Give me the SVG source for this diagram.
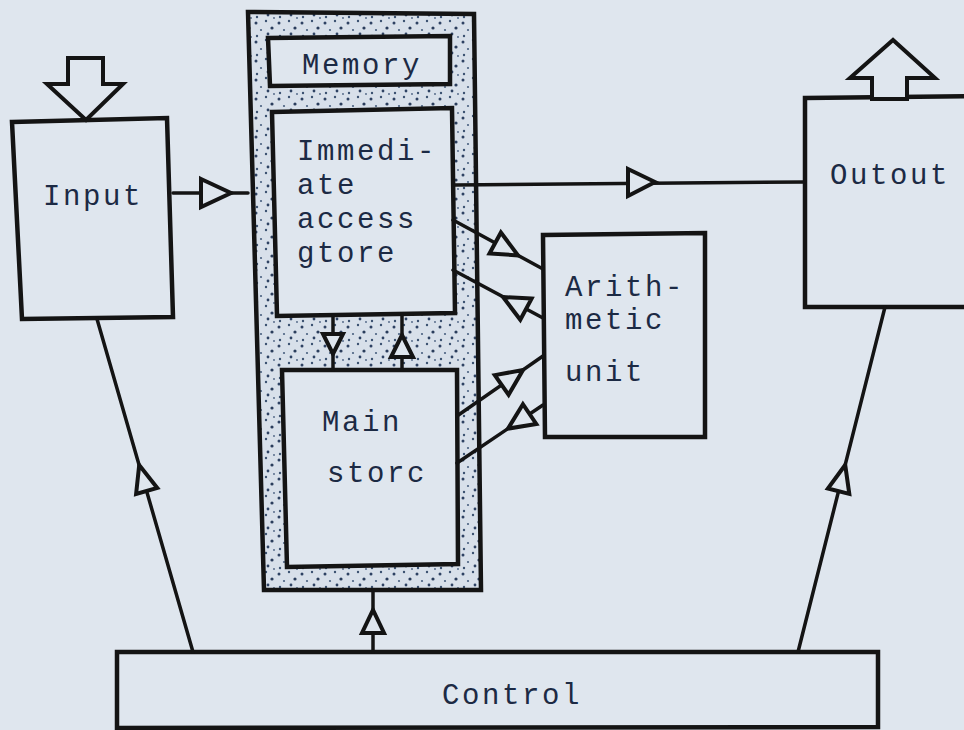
<svg xmlns="http://www.w3.org/2000/svg" width="964" height="730" viewBox="0 0 964 730">
  <defs>
    <!-- stippled fill for the memory casing -->
    <pattern id="stipple" width="23" height="19" patternUnits="userSpaceOnUse">
      <rect width="23" height="19" fill="#d8e0ea"/>
      <circle cx="3" cy="4" r="1.5" fill="#2e4263"/>
      <circle cx="13" cy="2" r="1.2" fill="#3a5070"/>
      <circle cx="19" cy="9" r="1.6" fill="#2a3d5c"/>
      <circle cx="8" cy="11" r="1.1" fill="#4a6080"/>
      <circle cx="15" cy="15" r="1.4" fill="#2e4263"/>
      <circle cx="4" cy="17" r="1.2" fill="#3a5070"/>
      <circle cx="21" cy="18" r="0.9" fill="#4a6080"/>
    </pattern>
    <style>
      .box { fill: #dfe6ee; stroke: #141414; stroke-width: 4.5; stroke-linejoin: miter; }
      .wire { fill: none; stroke: #141414; stroke-width: 3.5; stroke-linecap: round; }
      .head { fill: #dfe6ee; stroke: #141414; stroke-width: 4; stroke-linejoin: miter; }
      .label { font-family: "Liberation Mono", "DejaVu Sans Mono", monospace; font-size: 29px; letter-spacing: 2.6px; fill: #1c2a44; }
    </style>
  </defs>

  <rect width="964" height="730" fill="#dfe6ee"/>

  <!-- Memory: stippled casing with its title plate and two stores -->
  <g id="memory">
    <polygon points="248,12 474,14 481,590 264,590" fill="url(#stipple)" stroke="#141414" stroke-width="4.5"/>
    <g id="memory-title">
      <polygon class="box" points="268,38 450,36 450,84 270,86"/>
      <text class="label" x="302" y="74">Memory</text>
    </g>
  </g>

  <g id="immediate-access-store">
    <polygon class="box" points="272,112 452,108 455,313 277,316"/>
    <text class="label" x="297" y="160">Immedi-</text>
    <text class="label" x="297" y="194">ate</text>
    <text class="label" x="297" y="228">access</text>
    <text class="label" x="297" y="262">gtore</text>
  </g>

  <g id="main-store">
    <polygon class="box" points="282,370 457,370 458,564 287,567"/>
    <text class="label" x="322" y="431">Main</text>
    <text class="label" x="327" y="482">storc</text>
  </g>

  <g id="input">
    <polygon class="box" points="12,122 167,118 173,317 22,319"/>
    <text class="label" x="43" y="205">Input</text>
  </g>

  <g id="arithmetic-unit">
    <polygon class="box" points="543,235 705,233 705,437 545,437"/>
    <text class="label" x="565" y="296">Arith-</text>
    <text class="label" x="565" y="329">metic</text>
    <text class="label" x="565" y="381">unit</text>
  </g>

  <g id="output">
    <polygon class="box" points="805,98 985,96 985,307 805,307"/>
    <text class="label" x="830" y="184">Outout</text>
  </g>

  <g id="control">
    <polygon class="box" points="117,652 878,652 878,727 117,728"/>
    <text class="label" x="442" y="704">Control</text>
  </g>

  <!-- connectors -->
  <g id="connectors">
    <!-- block arrows: data in / data out -->
    <polygon class="head" points="68,58 103,58 103,84 123,84 86,120 47,84 68,84"/>
    <polygon class="head" points="872,99 907,99 907,78 935,78 893,40 850,78 872,78"/>

    <!-- input to memory -->
    <line class="wire" x1="173" y1="193" x2="248" y2="193"/>
    <polygon class="head" points="201,179 231,193 201,207"/>

    <!-- immediate access store to output -->
    <line class="wire" x1="455" y1="185" x2="805" y2="182"/>
    <polygon class="head" points="628,169 655,182 628,196"/>

    <!-- immediate access store to arithmetic unit -->
    <line class="wire" x1="453" y1="220" x2="543" y2="269"/>
    <polygon class="head" points="500.9,232.5 518,255.4 489.5,253.5"/>

    <!-- arithmetic unit to immediate access store -->
    <line class="wire" x1="453" y1="270" x2="543" y2="318"/>
    <polygon class="head" points="531.6,298.6 503,297 520.3,319.8"/>

    <!-- main store to arithmetic unit -->
    <line class="wire" x1="457" y1="416" x2="543" y2="356"/>
    <polygon class="head" points="494.8,375.1 523,370 508.6,394.7"/>

    <!-- arithmetic unit to main store -->
    <line class="wire" x1="543" y1="405" x2="457" y2="463"/>
    <polygon class="head" points="522.9,404.2 508,428.6 536.3,424"/>

    <!-- between the two stores -->
    <line class="wire" x1="333" y1="316" x2="333" y2="370"/>
    <polygon class="head" points="323,334 343,334 333,354"/>
    <line class="wire" x1="402" y1="316" x2="402" y2="370"/>
    <polygon class="head" points="391,357 413,357 402,335"/>

    <!-- control lines -->
    <line class="wire" x1="373" y1="652" x2="373" y2="590"/>
    <polygon class="head" points="362,633 384,633 373,610"/>

    <line class="wire" x1="193" y1="652" x2="97" y2="319"/>
    <polygon class="head" points="157.3,488 139.2,465 136.1,494"/>

    <line class="wire" x1="798" y1="652" x2="885" y2="307"/>
    <polygon class="head" points="849.3,493.9 845.2,465 827.9,488.5"/>
  </g>
</svg>
